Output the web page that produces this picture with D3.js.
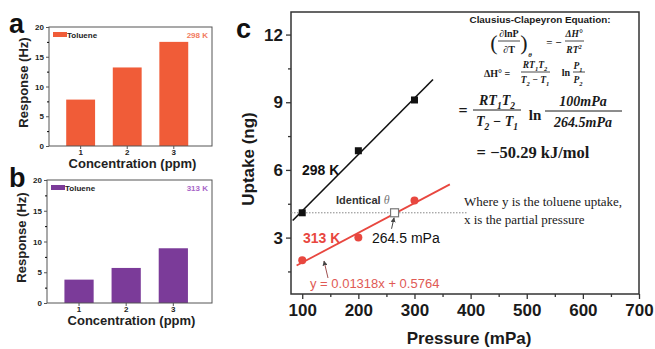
<!DOCTYPE html>
<html>
<head>
<meta charset="utf-8">
<script src="https://cdn.jsdelivr.net/npm/d3@7"></script>
<style>
  body { margin: 0; background: #fff; }
  svg { display: block; }
  text { font-family: 'Liberation Sans', Arial, sans-serif; }
  .serif { font-family: 'Liberation Serif', 'Times New Roman', serif; }
</style>
</head>
<body>
<div id="chart"></div>
<script>
// ---- data ----
const concentrations = ['1', '2', '3'];
const response298 = [7.8, 13.2, 17.5];
const response313 = [3.8, 5.7, 8.9];
const responseTicks = [0, 5, 10, 15, 20];

const pressure = [100, 200, 300];
const uptake298 = [4.1, 6.85, 9.1];
const uptake313 = [2.0, 3.0, 4.65];
const pressureTicks = [100, 200, 300, 400, 500, 600, 700];
const uptakeTicks = [3, 6, 9, 12];
const fitRange298 = [83, 333];
const fitRange313 = [90, 363];
const fit313 = { slope: 0.01318, intercept: 0.5764 };
const identicalPressure = 264.5;
const identicalUptake = 4.1;

const COLOR_ORANGE = '#f05c38';
const COLOR_PURPLE = '#7b3b99';
const COLOR_RED = '#e8473f';

const W = 655, H = 349;
const svg = d3.select('#chart').append('svg').attr('width', W).attr('height', H);
svg.append('rect').attr('width', W).attr('height', H).attr('fill', '#fff');

// arrow marker
svg.append('defs').append('marker')
	.attr('id', 'arrow')
	.attr('viewBox', '0 0 10 10')
	.attr('refX', 9).attr('refY', 5)
	.attr('markerWidth', 5).attr('markerHeight', 5)
	.attr('orient', 'auto')
	.append('path').attr('d', 'M0,0L10,5L0,10z').attr('fill', '#444');

// ---- panels a and b ----
const drawBarPanel = (box, values, color, tempLabel, tempColor, letter, letterY) => {
	const g = svg.append('g');
	const x = d3.scaleBand().domain(concentrations)
		.range([box.left, box.right]).paddingInner(0.38).paddingOuter(0.44).align(0.42);
	const y = d3.scaleLinear().domain([0, 20]).range([box.bottom, box.top]);

	g.selectAll('.bar').data(values).enter().append('rect')
		.attr('x', (d, i) => x(concentrations[i]))
		.attr('y', (d) => y(d))
		.attr('width', x.bandwidth())
		.attr('height', (d) => y(0) - y(d))
		.attr('fill', color);

	g.append('rect')
		.attr('x', box.left).attr('y', box.top)
		.attr('width', box.right - box.left).attr('height', box.bottom - box.top)
		.attr('fill', 'none').attr('stroke', '#555').attr('stroke-width', 1);

	const yAxis = g.append('g').attr('transform', 'translate(' + box.left + ',0)')
		.call(d3.axisLeft(y).tickValues(responseTicks).tickSize(3).tickPadding(2));
	g.append('g').attr('transform', 'translate(' + box.left + ',0)')
		.call(d3.axisLeft(y).tickValues([2.5, 7.5, 12.5, 17.5]).tickSize(2).tickFormat(''))
		.select('.domain').remove();
	const xAxis = g.append('g').attr('transform', 'translate(0,' + box.bottom + ')')
		.call(d3.axisBottom(x).tickSize(3).tickPadding(0));
	[yAxis, xAxis].forEach((a) => {
		a.select('.domain').remove();
		a.selectAll('line').attr('stroke', '#555');
		a.selectAll('text').attr('font-size', 8).attr('font-weight', 'bold').attr('fill', '#222')
			.attr('font-family', "'Liberation Sans', Arial, sans-serif");
	});

	g.append('text')
		.attr('transform', 'translate(' + (box.left - 21) + ',' + ((box.top + box.bottom) / 2 - 4) + ') rotate(-90)')
		.attr('text-anchor', 'middle').attr('font-size', 13).attr('font-weight', 'bold').attr('fill', '#222')
		.text('Response (Hz)');
	g.append('text')
		.attr('x', (box.left + box.right) / 2 + 2).attr('y', box.bottom + 22)
		.attr('text-anchor', 'middle').attr('font-size', 13).attr('font-weight', 'bold').attr('fill', '#222')
		.text('Concentration (ppm)');

	// legend
	g.append('rect').attr('x', box.left + 4).attr('y', box.top + 5).attr('width', 14).attr('height', 5).attr('fill', color);
	g.append('text').attr('x', box.left + 18).attr('y', box.top + 10.5)
		.attr('font-size', 8).attr('font-weight', 'bold').attr('fill', '#222').text('Toluene');
	g.append('text').attr('x', box.right - 4).attr('y', box.top + 10.5).attr('text-anchor', 'end')
		.attr('font-size', 8).attr('font-weight', 'bold').attr('fill', tempColor).text(tempLabel);

	g.append('text').attr('x', 9).attr('y', letterY)
		.attr('font-size', 27).attr('font-weight', 'bold').attr('fill', '#111').text(letter);
};

drawBarPanel({ left: 49, right: 212, top: 27, bottom: 146 }, response298, COLOR_ORANGE, '298 K', '#f27a5e', 'a', 33);
drawBarPanel({ left: 47, right: 212, top: 180, bottom: 303 }, response313, COLOR_PURPLE, '313 K', '#a866c8', 'b', 187);

// ---- panel c ----
const c = { left: 291, right: 639, top: 12, bottom: 294 };
const gc = svg.append('g');
const x = d3.scaleLinear().domain([80, 700]).range([c.left, c.right]);
const y = d3.scaleLinear().domain([0.5, 13]).range([c.bottom, c.top]);

gc.append('rect')
	.attr('x', c.left).attr('y', c.top)
	.attr('width', c.right - c.left).attr('height', c.bottom - c.top)
	.attr('fill', 'none').attr('stroke', '#333').attr('stroke-width', 1.5);

const cyAxis = gc.append('g').attr('transform', 'translate(' + c.left + ',0)')
	.call(d3.axisLeft(y).tickValues(uptakeTicks).tickSize(5).tickPadding(3));
const cyMinor = gc.append('g').attr('transform', 'translate(' + c.left + ',0)')
	.call(d3.axisLeft(y).tickValues([1.5, 4.5, 7.5, 10.5]).tickSize(3).tickFormat(''));
const cxAxis = gc.append('g').attr('transform', 'translate(0,' + c.bottom + ')')
	.call(d3.axisBottom(x).tickValues(pressureTicks).tickSize(5).tickPadding(5));
const cxMinor = gc.append('g').attr('transform', 'translate(0,' + c.bottom + ')')
	.call(d3.axisBottom(x).tickValues([150, 250, 350, 450, 550, 650]).tickSize(3).tickFormat(''));
[cyAxis, cyMinor, cxAxis, cxMinor].forEach((a) => {
	a.select('.domain').remove();
	a.selectAll('line').attr('stroke', '#333').attr('stroke-width', 1.3);
	a.selectAll('text').attr('font-size', 17).attr('font-weight', 'bold').attr('fill', '#1a1a1a')
		.attr('font-family', "'Liberation Sans', Arial, sans-serif");
});

gc.append('text')
	.attr('transform', 'translate(254,' + ((c.top + c.bottom) / 2 + 6) + ') rotate(-90)')
	.attr('text-anchor', 'middle').attr('font-size', 17).attr('font-weight', 'bold').attr('fill', '#1a1a1a')
	.text('Uptake (ng)');
gc.append('text')
	.attr('x', (c.left + c.right) / 2 + 4).attr('y', 344)
	.attr('text-anchor', 'middle').attr('font-size', 17).attr('font-weight', 'bold').attr('fill', '#1a1a1a')
	.text('Pressure (mPa)');
gc.append('text').attr('x', 236).attr('y', 38)
	.attr('font-size', 27).attr('font-weight', 'bold').attr('fill', '#111').text('c');

// dotted identical-uptake line
gc.append('line')
	.attr('x1', c.left).attr('x2', 468)
	.attr('y1', y(identicalUptake)).attr('y2', y(identicalUptake))
	.attr('stroke', '#888').attr('stroke-width', 1).attr('stroke-dasharray', '1.5,1.5');

// 298 K fit (least squares from the points)
const mx = d3.mean(pressure), my = d3.mean(uptake298);
const slope298 = d3.sum(pressure, (p, i) => (p - mx) * (uptake298[i] - my)) / d3.sum(pressure, (p) => (p - mx) ** 2);
const int298 = my - slope298 * mx;
const line = d3.line().x((d) => x(d[0])).y((d) => y(d[1]));

gc.append('path')
	.attr('d', line(fitRange298.map((p) => [p, int298 + slope298 * p])))
	.attr('stroke', '#111').attr('stroke-width', 1.6).attr('fill', 'none');
gc.append('path')
	.attr('d', line(fitRange313.map((p) => [p, fit313.intercept + fit313.slope * p])))
	.attr('stroke', COLOR_RED).attr('stroke-width', 1.8).attr('fill', 'none');

gc.selectAll('.sq').data(pressure).enter().append('rect')
	.attr('x', (d) => x(d) - 3.5).attr('y', (d, i) => y(uptake298[i]) - 3.5)
	.attr('width', 7).attr('height', 7).attr('fill', '#111');
gc.selectAll('.dot').data(pressure).enter().append('circle')
	.attr('cx', (d) => x(d)).attr('cy', (d, i) => y(uptake313[i]))
	.attr('r', 4).attr('fill', COLOR_RED);

gc.append('rect')
	.attr('x', x(identicalPressure) - 4).attr('y', y(identicalUptake) - 4)
	.attr('width', 8).attr('height', 8)
	.attr('fill', '#fff').attr('stroke', '#777').attr('stroke-width', 1.2);

// annotations
gc.append('text').attr('x', 302).attr('y', 175).attr('font-size', 14).attr('font-weight', 'bold').attr('fill', '#111').text('298 K');
gc.append('text').attr('x', 303).attr('y', 243).attr('font-size', 14).attr('font-weight', 'bold').attr('fill', COLOR_RED).text('313 K');
const ident = gc.append('text').attr('x', 336).attr('y', 204).attr('font-size', 11).attr('font-weight', 'bold').attr('fill', '#333');
ident.append('tspan').text('Identical ');
ident.append('tspan').attr('font-style', 'italic').attr('font-weight', 'normal').attr('fill', '#777')
	.attr('font-family', "'Liberation Serif', serif").attr('font-size', 12).text('θ');
gc.append('text').attr('x', 372).attr('y', 243).attr('font-size', 14).attr('fill', '#111').text('264.5 mPa');
gc.append('line')
	.attr('x1', x(identicalPressure) - 3).attr('y1', y(identicalUptake) + 16)
	.attr('x2', x(identicalPressure) - 0.5).attr('y2', y(identicalUptake) + 5)
	.attr('stroke', '#444').attr('stroke-width', 1).attr('marker-end', 'url(#arrow)');
gc.append('line')
	.attr('x1', 328).attr('y1', 278).attr('x2', 324).attr('y2', 261)
	.attr('stroke', '#a05050').attr('stroke-width', 1).attr('marker-end', 'url(#arrow)');
gc.append('text').attr('x', 310).attr('y', 288).attr('font-size', 13).attr('fill', '#e05a55')
	.text('y = 0.01318x + 0.5764');

// Clausius-Clapeyron block
const eq = gc.append('g').attr('fill', '#1a1a1a');
eq.append('text').attr('x', 540).attr('y', 23).attr('text-anchor', 'middle')
	.attr('font-size', 9.5).attr('font-weight', 'bold').attr('textLength', 141).attr('lengthAdjust', 'spacingAndGlyphs')
	.text('Clausius-Clapeyron Equation:');

// serif text; "_x" makes x a subscript, "^x" a superscript
const sText = (markup, px, py, size, opts = {}) => {
	const t = eq.append('text').attr('class', 'serif').attr('x', px).attr('y', py)
		.attr('font-size', size).attr('text-anchor', opts.anchor || 'middle');
	if (opts.italic) t.attr('font-style', 'italic');
	if (opts.bold) t.attr('font-weight', 'bold');
	const tokens = markup.match(/[_^].|[^_^]+/g);
	let shift = 0;
	tokens.forEach((tok) => {
		if (tok[0] === '_' || tok[0] === '^') {
			const target = tok[0] === '_' ? size * 0.3 : -size * 0.38;
			t.append('tspan').attr('dy', target - shift).attr('font-size', size * 0.68).text(tok[1]);
			shift = target;
		} else {
			t.append('tspan').attr('dy', -shift).text(tok);
			shift = 0;
		}
	});
	return t;
};
const bar = (x1, x2, yy, w) => eq.append('line').attr('x1', x1).attr('x2', x2).attr('y1', yy).attr('y2', yy)
	.attr('stroke', '#1a1a1a').attr('stroke-width', w || 0.8);

// line 1
sText('(', 494, 50, 22);
sText('∂lnP', 509, 37, 10, { bold: true });
bar(498, 520, 41);
sText('∂T', 509, 53, 10, { bold: true });
sText(')', 524, 50, 22);
sText('θ', 530, 57, 7, { italic: true, bold: true });
sText('=  −', 554, 46, 11, { bold: true });
sText('ΔH°', 574, 37, 9.5, { italic: true, bold: true });
bar(565, 584, 41);
sText('RT^2', 574, 53, 9.5, { italic: true, bold: true });

// line 2
sText('ΔH° =', 497, 77, 10, { bold: true });
sText('RT_1T_2', 535, 68, 9.5, { italic: true, bold: true });
bar(521, 550, 72);
sText('T_2 − T_1', 535, 83, 9.5, { italic: true, bold: true });
sText('ln', 566, 76, 10, { bold: true });
sText('P_1', 578, 69, 9.5, { italic: true, bold: true });
bar(573, 585, 72);
sText('P_2', 578, 83, 9.5, { italic: true, bold: true });

// line 3
sText('=', 463, 116, 16, { bold: true });
sText('RT_1T_2', 497, 105, 14, { italic: true, bold: true });
bar(473, 521, 110, 1);
sText('T_2 − T_1', 497, 126, 14, { italic: true, bold: true });
sText('ln', 535, 120, 15, { bold: true });
sText('100mPa', 583, 106, 14, { italic: true, bold: true });
bar(545, 622, 111, 1);
sText('264.5mPa', 583, 127, 14, { italic: true, bold: true });

// line 4
sText('=  −50.29 kJ/mol', 533, 158, 16.5, { bold: true });

// note
sText('Where y is the toluene uptake,', 464, 206, 13, { anchor: 'start' });
sText('x is the partial pressure', 464, 224, 13, { anchor: 'start' });
</script>
</body>
</html>
